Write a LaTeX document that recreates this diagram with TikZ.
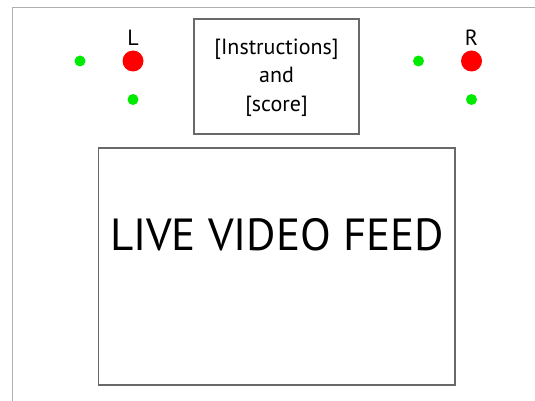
\documentclass[tikz,border=0pt]{standalone}
\usepackage{fontspec}
\setmainfont{PT Sans}
\definecolor{frameg}{RGB}{175,175,175}
\definecolor{boxg}{RGB}{105,105,105}
\definecolor{dotgreen}{RGB}{0,235,0}
\definecolor{dotred}{RGB}{255,0,0}
\begin{document}
\begin{tikzpicture}[x=1pt,y=-1pt,
  panel/.style={draw=boxg,line width=1.2pt},
  bigdot/.style={circle,fill=dotred,inner sep=0pt,minimum size=21pt},
  smalldot/.style={circle,fill=dotgreen,inner sep=0pt,minimum size=11pt},
  lbl/.style={font=\fontsize{22}{26}\selectfont,inner sep=0pt}]
\useasboundingbox[fill=white] (0,0) rectangle (535,401);
\draw[frameg,line width=1pt] (12.5,401) -- (12.5,8) -- (535,8);
\draw[panel] (194,19) rectangle (359,134);
\node[lbl,align=center,font=\fontsize{22}{28.5}\selectfont] (instr) at (276.5,77.5) {[Instructions]\\and\\[0pt][score]};
\draw[panel] (98.5,148) rectangle (455,385);
\node[inner sep=0pt,font=\fontsize{45}{50}\selectfont] (live) at (277,235) {LIVE VIDEO FEED};
\node[bigdot] (lred) at (133,61) {};
\node[smalldot] (lg1) at (80,61) {};
\node[smalldot] (lg2) at (133,99.5) {};
\node[lbl] (ltxt) at (133,37.5) {L};
\node[bigdot] (rred) at (471.5,61) {};
\node[smalldot] (rg1) at (418.5,61) {};
\node[smalldot] (rg2) at (471.5,99.5) {};
\node[lbl] (rtxt) at (471.5,37.5) {R};
\end{tikzpicture}
\end{document}
